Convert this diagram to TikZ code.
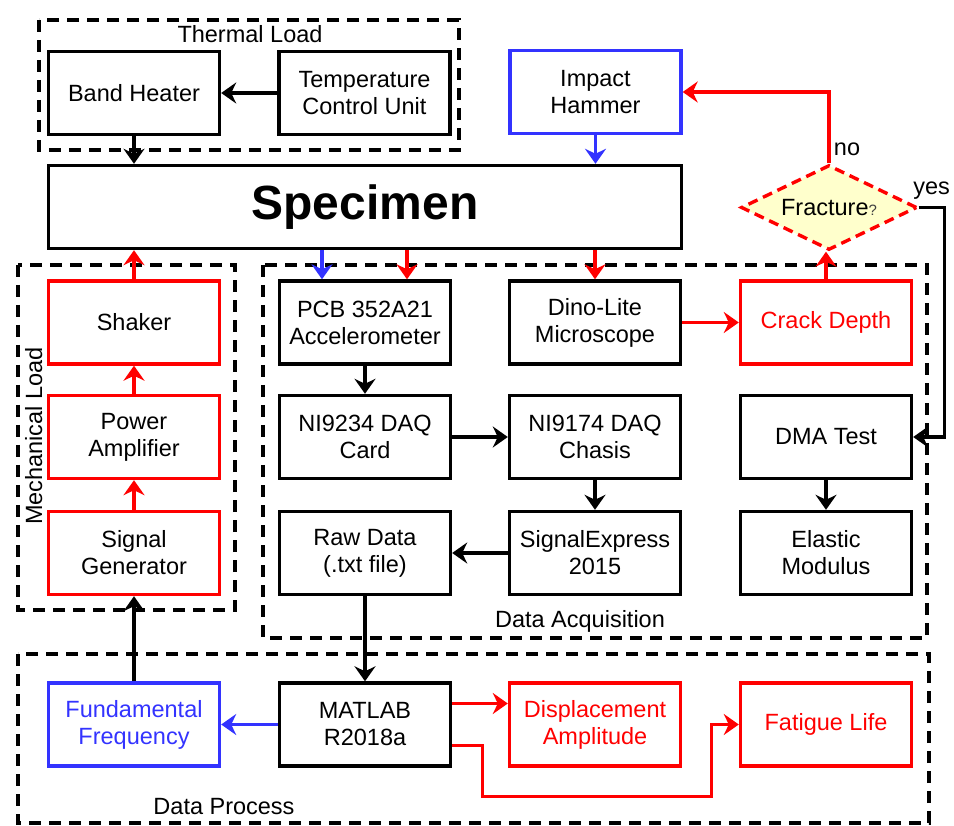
\documentclass[tikz,border=0pt]{standalone}
\usepackage{fontspec}
\setmainfont{Liberation Sans}
\usetikzlibrary{arrows.meta,shapes.geometric}
\definecolor{myred}{RGB}{255,0,0}
\definecolor{myblue}{RGB}{51,51,255}
\definecolor{myyellow}{RGB}{255,255,204}
\tikzset{
  blk/.style={draw, line width=3.4pt, minimum width=171pt, minimum height=83pt, align=center, inner sep=2pt},
  redblk/.style={blk, draw=myred},
  blueblk/.style={blk, draw=myblue},
  grp/.style={draw, line width=3.4pt, dash pattern=on 12pt off 8pt},
  arr/.style={-{Stealth[length=15pt,width=21pt,inset=5pt]}, line width=3.2pt},
  redarr/.style={arr, myred},
  bluearr/.style={arr, myblue},
}

\begin{document}
\begin{tikzpicture}[x=1pt, y=-1pt, font=\fontsize{23.5}{27}\selectfont]
    \useasboundingbox (0,0) rectangle (954,826);

    % Groups
    \draw[grp] (39,20) rectangle (459,150);
    \draw[grp] (18,265) rectangle (235,610);
    \draw[grp] (263,265) rectangle (927,638);
    \draw[grp] (18,654) rectangle (929,823);
    \node[anchor=base] (lthermal) at (250,43) {Thermal Load};
    \node[anchor=base, rotate=90] (lmech) at (42,436) {Mechanical Load};
    \node[anchor=base] (lacq) at (580,627) {Data Acquisition};
    \node[anchor=base] (lproc) at (224,814) {Data Process};

    % Nodes
    \node[blk] (heater) at (134,93) {Band Heater};
    \node[blk] (tcu) at (364.5,93) {Temperature\\Control Unit};
    \node[blueblk] (hammer) at (595.5,92) {Impact\\Hammer};
    \node[blk, minimum width=633pt, font=\fontsize{48}{50}\selectfont\bfseries] (specimen) at (365,207) {Specimen};
    \node[diamond, draw=myred, fill=myyellow, line width=3.4pt, dash pattern=on 10pt off 6pt,
          aspect=2, minimum width=176pt, minimum height=85pt, inner sep=0pt] (fracture) at (829,207.5)
          {Fracture{\fontsize{15}{15}\selectfont\color{darkgray}?}};

    \node[redblk] (shaker) at (134,322.5) {Shaker};
    \node[redblk] (amp) at (134,437) {Power\\Amplifier};
    \node[redblk] (siggen) at (134,553) {Signal\\Generator};

    \node[blk] (pcb) at (365,322.5) {PCB 352A21\\Accelerometer};
    \node[blk] (ni9234) at (365,437) {NI9234 DAQ\\Card};
    \node[blk] (rawdata) at (365,553) {Raw Data\\(.txt file)};

    \node[blk] (dino) at (595,322.5) {Dino-Lite\\Microscope};
    \node[blk] (ni9174) at (595,437) {NI9174 DAQ\\Chasis};
    \node[blk] (sigexp) at (595,553) {SignalExpress\\2015};

    \node[redblk, text=myred] (crack) at (826,322.5) {Crack Depth};
    \node[blk] (dma) at (826,437) {DMA Test};
    \node[blk] (modulus) at (826,553) {Elastic\\Modulus};

    \node[blueblk, text=myblue] (fundfreq) at (134,724.5) {Fundamental\\Frequency};
    \node[blk] (matlab) at (365,724.5) {MATLAB\\R2018a};
    \node[redblk, text=myred] (disp) at (595,724.5) {Displacement\\Amplitude};
    \node[redblk, text=myred] (fatigue) at (826,724.5) {Fatigue Life};

    \coordinate (pcbblue) at ([xshift=-43pt]pcb.north);
    \coordinate (pcbred) at ([xshift=42pt]pcb.north);

    % Edges
    \draw[arr] (tcu) -- (heater);
    \draw[arr] (heater.south) -- (heater.south |- specimen.north);
    \draw[bluearr] (hammer.south) -- (hammer.south |- specimen.north);
    \draw[redarr] (fracture.north) |- (hammer.east) node[pos=0.1, right, black] {no};
    \draw[arr] (fracture.east) -- ++(26,0) node[pos=0.5, above=3pt, black] {yes} |- (dma.east);

    \draw[redarr] (siggen) -- (amp);
    \draw[redarr] (amp) -- (shaker);
    \draw[redarr] (shaker.north) -- (shaker.north |- specimen.south);
    \draw[arr] (fundfreq) -- (siggen);

    \draw[bluearr] (pcbblue |- specimen.south) -- (pcbblue);
    \draw[redarr] (pcbred |- specimen.south) -- (pcbred);
    \draw[redarr] (dino.north |- specimen.south) -- (dino.north);
    \draw[redarr] (crack.north) -- (crack.north |- fracture.south);

    \draw[arr] (pcb) -- (ni9234);
    \draw[arr] (ni9234) -- (ni9174);
    \draw[arr] (ni9174) -- (sigexp);
    \draw[arr] (sigexp) -- (rawdata);
    \draw[redarr] (dino) -- (crack);
    \draw[arr] (dma) -- (modulus);
    \draw[arr] (rawdata) -- (matlab);

    \draw[bluearr] (matlab) -- (fundfreq);
    \draw[redarr] ([yshift=21pt]matlab.east) -- ([yshift=21pt]matlab.east -| disp.west);
    \draw[redarr] ([yshift=-21pt]matlab.east) -- ++(30,0) -- ++(0,51) -| ([xshift=-27pt]fatigue.west) -- (fatigue.west);
\end{tikzpicture}
\end{document}
